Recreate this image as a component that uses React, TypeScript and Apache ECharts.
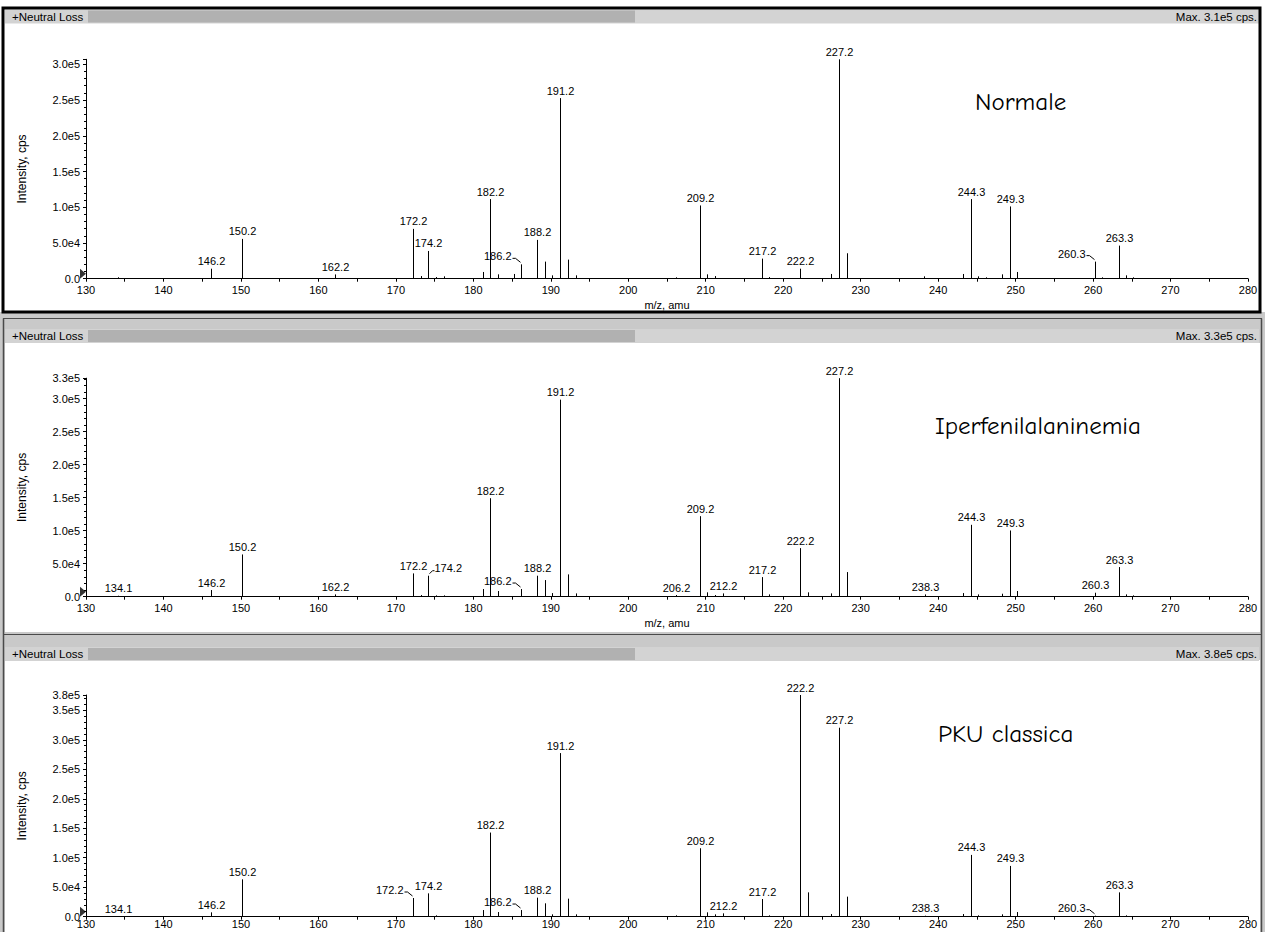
import React, { useEffect, useRef } from "react";
import * as echarts from "echarts";

const FONT = '"Liberation Sans", Arial, Helvetica, sans-serif';
const TITLE_FONT = '"Comic Sans MS", "Comic Neue", "DejaVu Sans", sans-serif';

// x axis (m/z) range and tick step
const X_MIN = 130;
const X_MAX = 280;
const X_STEP = 10;
const Y_STEP = 50000;

// ---------- Panel 1 : Normale ----------
const mz1 = [134.1, 146.2, 150.2, 162.2, 172.2, 173.2, 174.2, 175.2, 176.2, 181.2, 182.2, 183.2, 185.2, 186.2, 188.2, 189.2, 190.2, 191.2, 192.2, 193.2, 206.2, 209.2, 210.2, 211.2, 217.2, 218.2, 222.2, 226.2, 227.2, 228.2, 238.2, 243.2, 244.3, 245.2, 246.2, 248.2, 249.3, 250.2, 260.3, 261.2, 263.3, 264.2, 265.2];
const int1 = [2000, 14000, 55700, 6000, 69700, 3700, 38800, 2300, 3300, 9400, 111400, 6100, 6600, 20100, 54300, 23900, 4700, 252700, 26700, 4700, 1900, 102500, 6100, 3700, 28100, 2300, 14000, 6600, 307000, 35600, 3300, 6600, 111400, 3300, 1900, 6100, 101100, 9400, 23900, 1900, 46300, 4700, 1900];
const labels1 = [146.2, 150.2, 162.2, 172.2, 174.2, 182.2, 186.2, 188.2, 191.2, 209.2, 217.2, 222.2, 227.2, 244.3, 249.3, 260.3, 263.3];
const leftLead1: number[] = [186.2, 260.3];
const rightLead1: number[] = [];
const yMax1 = 307000;

// ---------- Panel 2 : Iperfenilalaninemia ----------
const mz2 = [134.1, 146.2, 150.2, 162.2, 172.2, 173.2, 174.2, 175.2, 176.2, 181.2, 182.2, 183.2, 186.2, 188.2, 189.2, 190.2, 191.2, 192.2, 193.2, 206.2, 209.2, 210.2, 211.2, 212.2, 217.2, 218.2, 222.2, 223.2, 226.2, 227.2, 228.2, 238.3, 243.2, 244.3, 245.2, 248.2, 249.3, 250.2, 260.3, 263.3, 264.2, 265.2];
const int2 = [1500, 10100, 64000, 3500, 35300, 2500, 31800, 2000, 2000, 11600, 149200, 8600, 11600, 31800, 25200, 5500, 298500, 33800, 5000, 2500, 122000, 6600, 2500, 5000, 29700, 3500, 73600, 6600, 5000, 331000, 37300, 3500, 5500, 108900, 3500, 4500, 100300, 8600, 6000, 44900, 3500, 2000];
const labels2 = [134.1, 146.2, 150.2, 162.2, 172.2, 174.2, 182.2, 186.2, 188.2, 191.2, 206.2, 209.2, 212.2, 217.2, 222.2, 227.2, 238.3, 244.3, 249.3, 260.3, 263.3];
const leftLead2: number[] = [186.2];
const rightLead2: number[] = [174.2];
const yMax2 = 331000;

// ---------- Panel 3 : PKU classica ----------
const mz3 = [134.1, 146.2, 150.2, 172.2, 174.2, 175.2, 181.2, 182.2, 183.2, 186.2, 188.2, 189.2, 190.2, 191.2, 192.2, 193.2, 206.2, 209.2, 210.2, 211.2, 212.2, 217.2, 218.2, 222.2, 223.2, 226.2, 227.2, 228.2, 238.3, 243.2, 244.3, 245.2, 248.2, 249.3, 250.2, 260.3, 263.3, 264.2];
const int3 = [1100, 7400, 63400, 31700, 39600, 2300, 11300, 142700, 7900, 11300, 32300, 22700, 4000, 277500, 30600, 4000, 2300, 116100, 7400, 4000, 5700, 30000, 2300, 376000, 41300, 4500, 320500, 34000, 1700, 4500, 104800, 2300, 4000, 86100, 7900, 1700, 41300, 2300];
const labels3 = [134.1, 146.2, 150.2, 172.2, 174.2, 182.2, 186.2, 188.2, 191.2, 209.2, 212.2, 217.2, 222.2, 227.2, 238.3, 244.3, 249.3, 260.3, 263.3];
const leftLead3: number[] = [172.2, 186.2, 260.3];
const rightLead3: number[] = [];
const yMax3 = 376000;

const panelTitles = ["Normale", "Iperfenilalaninemia", "PKU classica"];
const xNames = ["m/z, amu", "m/z, amu", ""]; // third one lies below the visible window
const headerText = "+Neutral Loss";

function sci(v: number): string {
  if (v === 0) return "0.0";
  const e = Math.floor(Math.log10(v));
  const m = v / Math.pow(10, e);
  let mm = Number(m.toFixed(1));
  let ee = e;
  if (mm >= 10) { mm = mm / 10; ee += 1; }
  return mm.toFixed(1) + "e" + ee;
}

const W = 1265;
const H = 932;

// layout (pixels)
const layout = [
  { top: 59.3, height: 219.4, header: 16.5, titleX: 975, titleY: 101, xLabelMargin: 6 },
  { top: 378.2, height: 218.5, header: 336, titleX: 935, titleY: 425, xLabelMargin: 6 },
  { top: 695, height: 221.7, header: 654, titleX: 938, titleY: 733, xLabelMargin: 2 },
];
const GRID_LEFT = 86;
const GRID_WIDTH = 1162;

function makeRenderItem() {
  return (params: any, api: any) => {
    const x = api.value(0);
    const y = api.value(1);
    const mode = api.value(2);
    const base = api.coord([x, 0]);
    const top = api.coord([x, y]);
    const px = Math.round(base[0]) + 0.5;
    const ty = top[1];
    const children: any[] = [
      {
        type: "line",
        shape: { x1: px, y1: base[1], x2: px, y2: ty },
        style: { stroke: "#000", lineWidth: 1 },
      },
    ];
    const txt = x.toFixed(1);
    const font = "11px " + FONT;
    if (mode === 1) {
      children.push({
        type: "text",
        x: px,
        y: ty - 2,
        style: { text: txt, font, fill: "#000", align: "center", textAlign: "center", verticalAlign: "bottom", textVerticalAlign: "bottom" },
      });
    } else if (mode === 2) {
      children.push({
        type: "text",
        x: px - 10,
        y: ty - 8,
        style: { text: txt, font, fill: "#000", align: "right", textAlign: "right", verticalAlign: "middle", textVerticalAlign: "middle" },
      });
      children.push({
        type: "polyline",
        shape: { points: [[px - 9, ty - 6], [px - 6, ty - 6], [px - 1, ty - 2]] },
        style: { stroke: "#000", lineWidth: 1, fill: "none" },
      });
    } else if (mode === 3) {
      children.push({
        type: "text",
        x: px + 6,
        y: ty - 8,
        style: { text: txt, font, fill: "#000", align: "left", textAlign: "left", verticalAlign: "middle", textVerticalAlign: "middle" },
      });
      children.push({
        type: "polyline",
        shape: { points: [[px + 1, ty - 2], [px + 4, ty - 5], [px + 6, ty - 5]] },
        style: { stroke: "#000", lineWidth: 1, fill: "none" },
      });
    }
    return { type: "group", children };
  };
}

function buildOption() {
  const panels = [
    { mz: mz1, int: int1, labels: labels1, left: leftLead1, right: rightLead1, yMax: yMax1 },
    { mz: mz2, int: int2, labels: labels2, left: leftLead2, right: rightLead2, yMax: yMax2 },
    { mz: mz3, int: int3, labels: labels3, left: leftLead3, right: rightLead3, yMax: yMax3 },
  ];

  const grids: any[] = [];
  const xAxes: any[] = [];
  const yAxes: any[] = [];
  const series: any[] = [];
  const graphics: any[] = [];

  // background & frames
  graphics.push({ type: "rect", z: -20, silent: true, shape: { x: 0, y: 0, width: W, height: H }, style: { fill: "#ffffff" } });
  graphics.push({ type: "rect", z: -19, silent: true, shape: { x: 0, y: 312, width: W, height: H - 312 }, style: { fill: "#c9c9c9" } });
  graphics.push({ type: "rect", z: -18, silent: true, shape: { x: 5, y: 343, width: 1255, height: 289 }, style: { fill: "#ffffff" } });
  graphics.push({ type: "rect", z: -18, silent: true, shape: { x: 5, y: 660, width: 1255, height: 272 }, style: { fill: "#ffffff" } });
  [318.5, 634.5].forEach((yy) => {
    graphics.push({ type: "line", z: -17, silent: true, shape: { x1: 3, y1: yy, x2: 1262, y2: yy }, style: { stroke: "#4a4a4a", lineWidth: 1 } });
  });
  [3.5, 1261.5].forEach((xx) => {
    graphics.push({ type: "line", z: -17, silent: true, shape: { x1: xx, y1: 318.5, x2: xx, y2: H }, style: { stroke: "#4a4a4a", lineWidth: 1.5 } });
  });

  panels.forEach((p, i) => {
    const L = layout[i];
    grids.push({
      left: GRID_LEFT,
      width: GRID_WIDTH,
      top: L.top,
      height: L.height,
      show: false,
      containLabel: false,
      outerBoundsMode: "none",
    });

    xAxes.push({
      gridIndex: i,
      type: "value",
      min: X_MIN,
      max: X_MAX,
      interval: X_STEP,
      name: xNames[i],
      nameLocation: "middle",
      nameGap: 21,
      nameTextStyle: { fontSize: 11, fontFamily: FONT, color: "#000" },
      axisLine: { show: true, onZero: false, lineStyle: { color: "#000", width: 1 } },
      axisTick: { show: true, length: 3, lineStyle: { color: "#000" } },
      minorTick: { show: true, splitNumber: 2, length: 3, lineStyle: { color: "#000" } },
      splitLine: { show: false },
      axisLabel: { fontSize: 11, fontFamily: FONT, color: "#000", margin: L.xLabelMargin },
    });

    yAxes.push({
      gridIndex: i,
      type: "value",
      min: 0,
      max: p.yMax,
      interval: Y_STEP,
      name: "Intensity, cps",
      nameLocation: "middle",
      nameGap: 58,
      nameTextStyle: { fontSize: 12, fontFamily: FONT, color: "#000" },
      axisLine: { show: true, lineStyle: { color: "#000", width: 1 } },
      axisTick: { show: true, length: 3, lineStyle: { color: "#000" } },
      minorTick: { show: true, splitNumber: 5, length: 2, lineStyle: { color: "#000" } },
      splitLine: { show: false },
      axisLabel: {
        fontSize: 11,
        fontFamily: FONT,
        color: "#000",
        margin: 6,
        showMaxLabel: i !== 0,
        formatter: (v: number) => sci(v),
      },
    });

    const data = p.mz.map((m, k) => {
      let mode = 0;
      if (p.left.includes(m)) mode = 2;
      else if (p.right.includes(m)) mode = 3;
      else if (p.labels.includes(m)) mode = 1;
      return [m, p.int[k], mode];
    });

    series.push({
      type: "custom",
      name: panelTitles[i],
      xAxisIndex: i,
      yAxisIndex: i,
      data,
      renderItem: makeRenderItem(),
      clip: false,
      silent: true,
      z: 3,
    });

    series.push({
      type: "scatter",
      xAxisIndex: i,
      yAxisIndex: i,
      data: [[X_MIN, 0]],
      symbol: "path://M0,0L6,5L0,10Z",
      symbolSize: [6, 10],
      symbolOffset: [-3, -5],
      itemStyle: { color: "#000" },
      clip: false,
      silent: true,
      z: 4,
    });

    // header bar
    const hy = L.header;
    graphics.push({ type: "rect", z: -5, silent: true, shape: { x: 5, y: hy - 7, width: 1254, height: 14 }, style: { fill: "#d3d3d3" } });
    graphics.push({ type: "rect", z: -4, silent: true, shape: { x: 88, y: hy - 6, width: 547, height: 12 }, style: { fill: "#b1b1b1" } });
    graphics.push({
      type: "text", z: 5, silent: true, x: 12, y: hy,
      style: { text: headerText, font: "11.5px " + FONT, fill: "#000", align: "left", textAlign: "left", verticalAlign: "middle", textVerticalAlign: "middle" },
    });
    graphics.push({
      type: "text", z: 5, silent: true, x: 1257, y: hy,
      style: { text: "Max. " + sci(p.yMax) + " cps.", font: "11.5px " + FONT, fill: "#000", align: "right", textAlign: "right", verticalAlign: "middle", textVerticalAlign: "middle" },
    });
    // panel title
    graphics.push({
      type: "text", z: 5, silent: true, x: L.titleX, y: L.titleY,
      style: { text: panelTitles[i], font: "25px " + TITLE_FONT, fill: "#000", align: "left", textAlign: "left", verticalAlign: "middle", textVerticalAlign: "middle" },
    });
  });

  // panel 1 black frame (active pane)
  graphics.push({ type: "rect", z: -3, silent: true, shape: { x: 3, y: 8, width: 1257, height: 304 }, style: { fill: "none", stroke: "#000", lineWidth: 3 } });

  return {
    animation: false,
    backgroundColor: "#ffffff",
    grid: grids,
    xAxis: xAxes,
    yAxis: yAxes,
    series,
    graphic: { elements: graphics },
  };
}

export default function App() {
  const ref = useRef<HTMLDivElement>(null);
  useEffect(() => {
    if (!ref.current) return;
    const chart = echarts.init(ref.current, undefined, { renderer: "svg" });
    chart.setOption(buildOption() as any);
    return () => {
      chart.dispose();
    };
  }, []);
  return (
    <div
      ref={ref}
      style={{ position: "absolute", left: 0, top: 0, width: W, height: H }}
    />
  );
}
